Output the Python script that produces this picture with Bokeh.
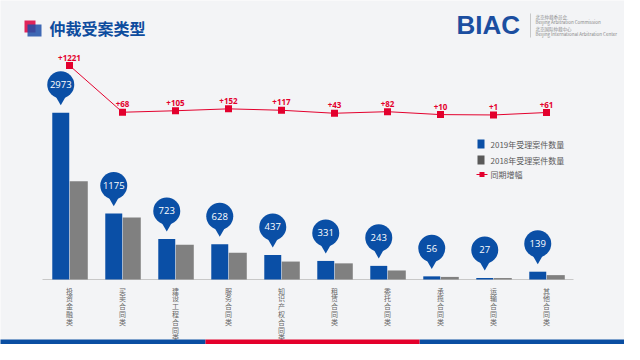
from bokeh.plotting import figure
from bokeh.models import Range1d
from bokeh.core.properties import value
from bokeh.embed import file_html
from bokeh.resources import INLINE

# ---------------- data ----------------
categories = ["投资金融类", "买卖合同类", "建设工程合同类", "服务合同类", "知识产权合同类",
              "租赁合同类", "委托合同类", "承揽合同类", "运输合同类", "其他合同类"]
cases_2019 = [2973, 1175, 723, 628, 437, 331, 243, 56, 27, 139]
cases_2018 = [1752, 1107, 618, 476, 320, 288, 161, 46, 26, 78]
increase = [1221, 68, 105, 152, 117, 43, 82, 10, 1, 61]

# ---------------- layout helpers (reference pixel -> data) ----------------
PX = 53.0      # px per category
X0 = 77.0      # ref x of first category centre
K = 0.05607    # px per case (bars)
BASE = 287.0   # ref y of baseline
KL = 0.0405    # px per case (increase line)
LBASE = 122.5  # ref y of zero increase


def dx(rx):
    return (rx - X0) / PX


def dy(ry):
    return (BASE - ry) / K


BLUE = "#0a4fa6"
GRAY = "#808080"
RED = "#e3002d"
CJK = value("Noto Sans CJK SC")
LAT = value("Open Sans")

p = figure(width=624, height=344, output_backend="svg", toolbar_location=None,
           x_range=Range1d(dx(8), dx(632)), y_range=Range1d(dy(352), dy(8)),
           min_border=0, x_axis_location=None, y_axis_location=None)
p.grid.visible = False
p.outline_line_color = None
p.background_fill_color = "#f3f4f6"
p.border_fill_color = "#f3f4f6"
p.extra_y_ranges = {"inc": Range1d(-(352 - LBASE) / KL, (LBASE - 8) / KL)}

idx = list(range(len(categories)))
bx = [i - 0.165 for i in idx]
gx = [i + 0.175 for i in idx]

# baseline
p.line([dx(50), dx(581)], [0, 0], line_color="#c8c8c8", line_width=1)

# bars
p.vbar(x=gx, top=cases_2018, bottom=0, width=0.34, fill_color=GRAY, line_color=None)
p.vbar(x=bx, top=cases_2019, bottom=0, width=0.32, fill_color=BLUE, line_color=None)

# pins
pin_c = [v + 28 / K for v in cases_2019]
tri_c = [v + 19 / K for v in cases_2019]
p.scatter(x=bx, y=tri_c, marker="inverted_triangle", size=20, fill_color=BLUE, line_color=None)
p.scatter(x=bx, y=pin_c, marker="circle", size=27, fill_color=BLUE, line_color=None)
p.text(x=bx, y=pin_c, text=[str(v) for v in cases_2019], text_color="white",
       text_font=LAT, text_font_size="9.5px", text_align="center", text_baseline="middle")

# increase line
p.line(x=idx, y=increase, y_range_name="inc", line_color=RED, line_width=1)
p.scatter(x=idx, y=increase, y_range_name="inc", marker="square", size=7,
          fill_color=RED, line_color=None)
p.text(x=idx, y=increase, y_range_name="inc", text=["+" + str(v) for v in increase],
       y_offset=-5, text_color=RED, text_font=LAT, text_font_size="8px",
       text_font_style="bold", text_align="center", text_baseline="bottom")

# vertical category labels
p.text(x=idx, y=[dy(293)] * len(idx), text=["\n".join(c) for c in categories],
       text_color="#666666", text_font=CJK, text_font_size="7px", text_line_height=0.78,
       text_align="center", text_baseline="top")

# legend (manual)
p.quad(left=[dx(485)], right=[dx(492)], top=[dy(147)], bottom=[dy(156)], fill_color=BLUE, line_color=None)
p.quad(left=[dx(485)], right=[dx(492)], top=[dy(163)], bottom=[dy(172)], fill_color="#595959", line_color=None)
p.line([dx(484), dx(495)], [dy(182), dy(182)], line_color=RED, line_width=1)
p.scatter(x=[dx(489.5)], y=[dy(182)], marker="square", size=5, fill_color=RED, line_color=None)
p.text(x=[dx(498)] * 3, y=[dy(151.5), dy(167.5), dy(182)],
       text=["2019年受理案件数量", "2018年受理案件数量", "同期增幅"],
       text_color="#595959", text_font=CJK, text_font_size="8px",
       text_align="left", text_baseline="middle")

# title with icon
p.quad(left=[dx(32)], right=[dx(43)], top=[dy(28)], bottom=[dy(40)], fill_color="#e0245a", line_color=None)
p.quad(left=[dx(35)], right=[dx(49)], top=[dy(32)], bottom=[dy(44)], fill_color="#1d4fa8",
       fill_alpha=0.85, line_color=None)
p.text(x=[dx(57)], y=[dy(35)], text=["仲裁受案类型"], text_color="#0d4c9e", text_font=CJK,
       text_font_size="16px", text_font_style="bold", text_align="left", text_baseline="middle")

# logo
p.text(x=[dx(464)], y=[dy(32)], text=["BIAC"], text_color="#1b4ea0",
       text_font=value("Liberation Sans"), text_font_size="26px", text_font_style="bold",
       text_align="left", text_baseline="middle")
p.line([dx(538), dx(538)], [dy(21), dy(45)], line_color="#aaaaaa", line_width=0.6)
p.text(x=[dx(543)] * 4, y=[dy(24), dy(29.5), dy(36), dy(41.5)],
       text=["北京仲裁委员会", "Beijing Arbitration Commission", "北京国际仲裁中心",
             "Beijing International Arbitration Center"],
       text_color="#8a8a8a", text_font=CJK, text_font_size="4.5px",
       text_align="left", text_baseline="middle")

# bottom strips
p.quad(left=[dx(0), dx(427)], right=[dx(213), dx(640)], top=[dy(347)] * 2, bottom=[dy(360)] * 2,
       fill_color="#0a4ea2", line_color=None)
p.quad(left=[dx(213)], right=[dx(427)], top=[dy(347)], bottom=[dy(360)],
       fill_color="#e4002b", line_color=None)

open("out.html", "w").write(file_html(p, INLINE))
